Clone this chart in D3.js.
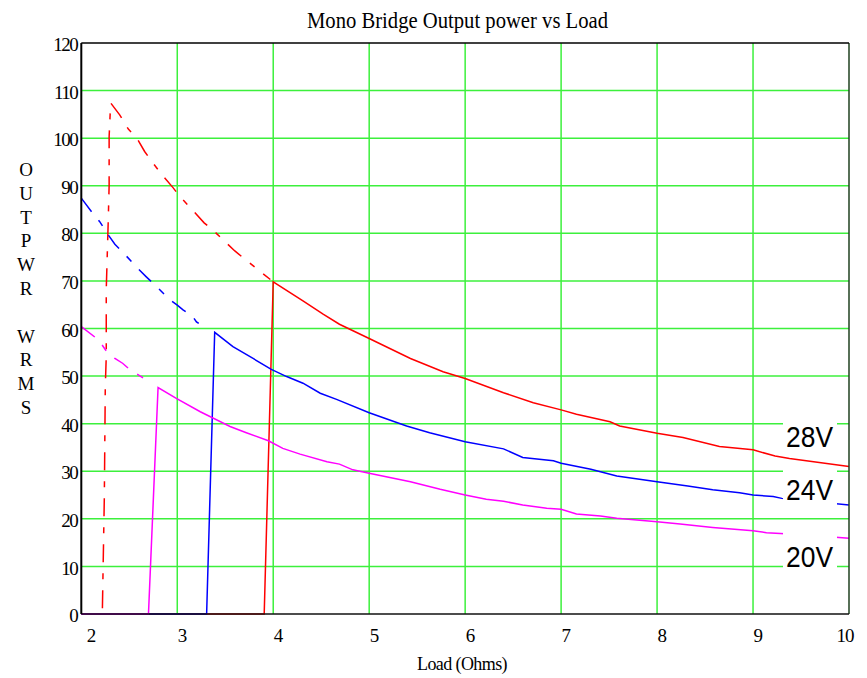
<!DOCTYPE html>
<html>
<head>
<meta charset="utf-8">
<script src="https://cdn.jsdelivr.net/npm/d3@7"></script>
<style>
  body { margin: 0; background: #fff; }
  text { font-family: "Liberation Serif", "Times New Roman", serif; fill: #000; }
</style>
</head>
<body>
<div id="chart"></div>
<script>
// ---- data ----
let xTicks = [2, 3, 4, 5, 6, 7, 8, 9, 10];
let yTicks = [0, 10, 20, 30, 40, 50, 60, 70, 80, 90, 100, 110, 120];
let yLabelLetters = ["O", "U", "T", "P", "W", "R", "", "W", "R", "M", "S"];
let seriesNames = ["28V", "24V", "20V"];

// 28V (red)
let red_dashed = [[2.22, 1.2], [2.24, 24.6], [2.25, 47.8], [2.26, 54.1], [2.26, 68.1], [2.28, 82.1],
  [2.29, 90], [2.29, 100.3], [2.306, 107.4], [2.40, 104.9], [2.49, 101.9], [2.58, 100], [2.66, 97.2],
  [2.75, 94.7], [2.84, 92.3], [2.96, 89.5], [3.02, 87.9], [3.15, 85.1], [3.28, 82.2], [3.375, 80.6],
  [3.48, 78.6], [3.60, 76.3], [3.69, 74.8], [3.82, 72.7], [3.97, 70.3]];
let red_solid = [[2, 0], [3.906, 0], [4.0, 69.8], [4.31, 65.8], [4.52, 63.0], [4.69, 60.9], [5.0, 57.9],
  [5.43, 53.7], [5.77, 50.9], [6.0, 49.5], [6.40, 46.5], [6.71, 44.4], [7.0, 42.9], [7.16, 42.0],
  [7.51, 40.4], [7.61, 39.5], [8.0, 38.0], [8.27, 37.1], [8.65, 35.2], [9.0, 34.5], [9.23, 33.2],
  [9.38, 32.7], [10, 31.0]];

// 24V (blue)
let blue_dashed = [[2.0, 87.4], [2.12, 84.2], [2.19, 82.5], [2.29, 79.4], [2.35, 77.7], [2.41, 76.5],
  [2.48, 75.0], [2.60, 72.4], [2.68, 70.8], [2.80, 68.5], [2.92, 66.1], [3.00, 64.9], [3.06, 63.9],
  [3.15, 62.8], [3.20, 61.4], [3.27, 60.4]];
let blue_solid = [[2, 0], [3.306, 0], [3.39, 59.2], [3.58, 56.2], [3.79, 53.7], [3.98, 51.4], [4.14, 49.9],
  [4.31, 48.5], [4.49, 46.4], [4.66, 45.1], [5.0, 42.3], [5.39, 39.5], [5.63, 38.1], [6.0, 36.2],
  [6.40, 34.7], [6.60, 32.9], [6.92, 32.2], [7.0, 31.7], [7.31, 30.4], [7.58, 29.0], [8.0, 27.8],
  [8.32, 26.9], [8.58, 26.1], [8.86, 25.5], [9.0, 25.0], [9.21, 24.7], [9.30, 24.3], [10, 22.9]];

// 20V (magenta)
let magenta_dashed = [[2.0, 60.4], [2.18, 57.6], [2.26, 55.3], [2.35, 53.7], [2.43, 52.7], [2.52, 51.1],
  [2.57, 50.6], [2.66, 49.4], [2.70, 49.0]];
let magenta_solid = [[2, 0], [2.70, 0], [2.80, 47.6], [2.99, 45.3], [3.24, 42.5], [3.55, 39.4], [3.72, 38.1],
  [3.95, 36.4], [4.10, 34.8], [4.28, 33.6], [4.56, 32.0], [4.69, 31.5], [4.83, 30.3], [5.0, 29.6],
  [5.43, 27.8], [5.74, 26.2], [6.0, 25.0], [6.22, 24.1], [6.40, 23.7], [6.60, 22.9], [6.85, 22.2],
  [7.0, 22.0], [7.16, 21.0], [7.41, 20.6], [7.58, 20.1], [8.0, 19.4], [8.24, 18.9], [8.58, 18.2],
  [9.0, 17.5], [9.14, 17.1], [9.38, 16.8], [9.55, 16.6], [10, 15.9]];

// ---- layout ----
let width = 867, height = 678;
let plot = {left: 81.3, right: 849, top: 43, bottom: 614};

let svg = d3.select("#chart")
  .append("svg")
    .attr("width", width)
    .attr("height", height);

let x = d3.scaleLinear().domain([2, 10]).range([plot.left, plot.right]);
let y = d3.scaleLinear().domain([0, 120]).range([plot.bottom, plot.top]);

// grid
svg.append("g")
  .selectAll("line")
  .data(xTicks.slice(1, -1))
  .join("line")
    .attr("x1", d => x(d)).attr("x2", d => x(d))
    .attr("y1", plot.top).attr("y2", plot.bottom)
    .attr("stroke", "#3cf03c")
    .attr("stroke-width", 1.5);

svg.append("g")
  .selectAll("line")
  .data(yTicks.slice(1, -1))
  .join("line")
    .attr("x1", plot.left).attr("x2", plot.right)
    .attr("y1", d => y(d)).attr("y2", d => y(d))
    .attr("stroke", "#3cf03c")
    .attr("stroke-width", 1.5);

// curves
let line = d3.line().x(d => x(d[0])).y(d => y(d[1]));
let curves = [
  {data: red_solid, color: "#ff0000", dash: null},
  {data: red_dashed, color: "#ff0000", dash: "18,11,6,11"},
  {data: blue_solid, color: "#0000ff", dash: null},
  {data: blue_dashed, color: "#0000ff", dash: "17,11,7,11"},
  {data: magenta_solid, color: "#ff00ff", dash: null},
  {data: magenta_dashed, color: "#ff00ff", dash: "17,11,7,11"}
];
svg.append("g")
  .selectAll("path")
  .data(curves)
  .join("path")
    .attr("d", d => line(d.data))
    .attr("fill", "none")
    .attr("stroke", d => d.color)
    .attr("stroke-width", 1.5)
    .attr("stroke-dasharray", d => d.dash);

// series labels with white boxes
let labelBoxes = [
  {y0: 420, y1: 452, base: 447},
  {y0: 467, y1: 506, base: 500},
  {y0: 531, y1: 572, base: 567}
];
let lab = svg.append("g");
seriesNames.forEach((name, i) => {
  let b = labelBoxes[i];
  lab.append("rect")
    .attr("x", 783).attr("y", b.y0)
    .attr("width", 54).attr("height", b.y1 - b.y0)
    .style("fill", "#fff");
  lab.append("text")
    .attr("x", 786).attr("y", b.base)
    .attr("textLength", 47)
    .attr("lengthAdjust", "spacingAndGlyphs")
    .style("font-family", "'Liberation Sans', Arial, sans-serif")
    .style("font-size", "30px")
    .text(name);
});

// frame
svg.append("line").attr("x1", plot.right).attr("x2", plot.right).attr("y1", plot.top).attr("y2", plot.bottom)
  .attr("stroke", "#1f401f").attr("stroke-width", 1.5);
svg.append("line").attr("x1", plot.left).attr("x2", plot.right).attr("y1", plot.top).attr("y2", plot.top)
  .attr("stroke", "#000").attr("stroke-width", 1.5);
svg.append("line").attr("x1", plot.left).attr("x2", plot.right).attr("y1", plot.bottom).attr("y2", plot.bottom)
  .attr("stroke", "#111").attr("stroke-width", 1.5);
svg.append("line").attr("x1", plot.left).attr("x2", plot.left).attr("y1", plot.top).attr("y2", plot.bottom)
  .attr("stroke", "#000").attr("stroke-width", 2);

// x axis labels
let xAxis = svg.append("g")
  .attr("transform", "translate(0," + plot.bottom + ")")
  .call(d3.axisBottom(x).tickValues(xTicks).tickSize(0).tickFormat(d3.format("d")));
xAxis.select(".domain").remove();
xAxis.selectAll(".tick text")
  .attr("y", 28)
  .attr("dy", 0)
  .attr("text-anchor", "start")
  .attr("dx", d => d === 2 ? 5 : 0)
  .style("font-family", "'Liberation Serif', 'Times New Roman', serif")
  .style("font-size", "19px")
  .style("letter-spacing", "-1px");
xAxis.selectAll(".tick text").filter(d => d === 10)
  .attr("text-anchor", "end")
  .attr("dx", 4);

// y axis labels
let yAxis = svg.append("g")
  .attr("transform", "translate(" + plot.left + ",0)")
  .call(d3.axisLeft(y).tickValues(yTicks).tickSize(0).tickFormat(d3.format("d")));
yAxis.select(".domain").remove();
yAxis.selectAll(".tick text")
  .attr("x", -4)
  .attr("dy", "0.4em")
  .style("font-family", "'Liberation Serif', 'Times New Roman', serif")
  .style("font-size", "19px")
  .style("letter-spacing", "-1.5px");

// vertical y title, one letter per row
svg.append("g")
  .selectAll("text")
  .data(yLabelLetters)
  .join("text")
    .attr("x", 26)
    .attr("y", (d, i) => 176 + i * 23.8)
    .attr("text-anchor", "middle")
    .style("font-size", "19px")
    .text(d => d);

// title
svg.append("text")
  .attr("x", 307)
  .attr("y", 28)
  .attr("textLength", 301)
  .attr("lengthAdjust", "spacingAndGlyphs")
  .style("font-size", "24px")
  .text("Mono Bridge Output power vs Load");

// x title
svg.append("text")
  .attr("x", 462)
  .attr("y", 670)
  .attr("text-anchor", "middle")
  .style("font-size", "18px")
  .style("letter-spacing", "-0.6px")
  .text("Load (Ohms)");
</script>
</body>
</html>
